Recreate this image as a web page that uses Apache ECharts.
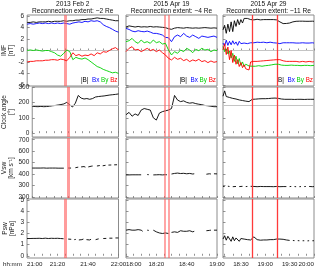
<!DOCTYPE html>
<html><head><meta charset="utf-8">
<script src="https://cdn.jsdelivr.net/npm/echarts@6/dist/echarts.min.js"></script>
<style>html,body{margin:0;padding:0;background:#fff}#c{width:320px;height:269px}</style>
</head><body><div id="c"></div>
<script>
// ---------------- DATA ----------------
const panelTitles = ['2013 Feb 2', '2015 Apr 19', '2015 Apr 29'];
const panelSubtitles = ['Reconnection extent: ~2 Re', 'Reconnection extent: ~4 Re', 'Reconnection extent: ~11 Re'];
// time axes in minutes of day
const xMins = [1260, 1080, 1088];
const xMaxs = [1320, 1140, 1200];
const xLabelValues = [[1260, 1280, 1300, 1320], [1080, 1100, 1120, 1140], [1110, 1140, 1170]];
const xEndLabelValues = [null, null, [1200]];
const eventTimes = [[1284.9], [1105.3, 1107.9], [1124, 1155]];
// y tick labels
const imfTicks = [-6, -4, -2, 0, 2, 4, 6];
const caTicks = [0, 100, 200, 300];
const vswTicks = [200, 300, 400, 500, 600, 700];
const pswTicks = [0, 1, 2, 3, 4, 5];
const rowNames = ['IMF\n[nT]', 'Clock angle\n[°]', 'Vsw\n[km s⁻¹]', 'Psw\n[nPa]'];
const imfLegend = ['|B|', 'Bx', 'By', 'Bz'];

// Column 1 (2013 Feb 2), 2-min sampling from 21:00
const imf1Start = 1260, imf1Step = 2;
const imf1_B  = [4.9,4.9,5.0,4.9,5.0,5.0,5.0,5.1,5.0,5.1,5.1,5.1,5.2,5.1,5.2,5.2,5.3,5.3,5.4,5.4,5.5,5.5,5.6,5.7,5.6,5.6,5.5,5.4,5.3,5.2,5.2];
const imf1_Bx = [4.6,4.7,4.6,4.7,4.8,4.7,4.8,4.7,4.8,4.7,4.8,4.7,4.8,4.7,4.6,4.8,4.9,5.0,4.9,5.1,5.0,5.2,5.1,5.2,5.0,4.5,4.2,4.0,3.7,3.4,3.2];
const imf1_By = [0.0,0.1,0.0,0.1,0.0,-0.1,0.0,0.0,-0.2,-0.4,-0.8,-1.0,-0.5,0.1,-0.2,-1.6,-1.2,-1.4,-1.5,-1.3,-1.6,-2.0,-2.4,-2.8,-3.0,-3.3,-3.5,-3.7,-3.9,-3.8,-4.0];
const imf1_Bz = [-2.0,-1.9,-1.9,-1.8,-1.8,-1.8,-1.7,-1.7,-1.6,-1.6,-1.7,-1.5,-1.6,-1.8,-1.2,-0.4,-0.9,-0.7,-1.0,-0.8,-0.9,-0.6,-0.9,-0.4,-0.6,-0.2,-0.3,0.0,0.3,0.5,0.1];
const ca1 = [175,173,172,174,172,173,175,178,180,183,186,190,200,185,170,195,245,228,222,225,220,225,235,238,240,242,245,248,250,252,255];
// 1-min sampling
const pl1Start = 1260, pl1Step = 1;
const vsw1 = [452,451,452,453,452,451,452,452,453,452,451,452,452,453,452,451,452,452,451,452,451,450,451,
  null,null,452,453,452,null,null,455,458,460,null,462,470,465,460,null,462,465,468,470,null,null,470,472,474,null,472,475,476,null,478,480,479,null,480,482,481,null];
const psw1 = [1.55,1.56,1.55,1.57,1.56,1.55,1.56,1.58,1.57,1.56,1.55,1.57,1.58,1.56,1.55,1.56,1.57,1.58,1.56,1.55,1.57,1.56,1.55,1.54,1.53,
  null,null,1.50,1.52,1.48,null,1.45,1.47,null,1.42,1.38,1.45,1.50,null,1.45,1.50,1.42,1.48,null,null,1.45,1.50,1.52,null,null,1.55,1.58,1.56,null,1.58,1.60,1.58,null,1.60,1.62,1.60];

// Column 2 (2015 Apr 19), 2-min sampling from 18:00
const imf2Start = 1080, imf2Step = 2;
const imf2_B  = [4.1,4.3,4.2,4.1,4.2,4.1,4.15,4.1,4.2,4.1,4.15,4.1,4.05,4.0,3.8,3.7,3.9,4.0,3.95,3.9,4.0,3.95,3.9,3.95,3.9,3.95,4.0,3.95,3.9,3.95,3.9];
const imf2_Bx = [3.86,3.68,3.39,3.27,3.45,3.33,3.27,3.39,3.22,2.99,2.99,2.87,2.70,2.29,2.23,1.54,2.41,2.70,2.41,2.99,2.52,2.29,2.70,2.41,2.12,2.52,2.41,2.29,2.41,2.52,2.29];
const imf2_By = [1.54,1.71,2.12,1.54,1.25,1.83,1.36,1.54,1.25,1.83,1.36,1.54,1.13,1.25,0.09,-0.78,-0.20,-0.49,0.09,-0.20,0.38,0.09,-0.38,0.20,-0.03,0.38,0.09,0.20,-0.20,0.09,-0.03];
const imf2_Bz = [-0.20,0.38,0.67,0.09,0.20,-0.20,0.09,0.38,-0.03,0.20,-0.20,0.09,-0.38,-0.78,-1.36,-1.65,-1.19,-1.54,-1.36,-1.77,-1.54,-1.94,-1.65,-1.83,-1.54,-1.94,-1.77,-2.12,-1.83,-2.06,-1.94];
const ca2 = [120,135,110,125,115,150,160,155,150,100,85,130,140,145,150,160,245,215,205,210,200,195,198,192,188,185,180,178,175,172,172];
const pl2Start = 1080, pl2Step = 1;
const vsw2 = [392,393,392,394,393,392,393,394,393,392,393,null,null,null,395,394,null,null,
  392,393,393,392,394,393,392,393,394,393,null,null,
  400,410,405,398,408,412,404,400,406,410,402,398,405,408,400,402,
  null,null,null,null,null,null,null,398,400,402,400,null,402,400,401];
const psw2 = [2.3,2.4,2.35,2.2,2.3,2.45,2.3,2.15,2.35,2.2,2.3,2.2,null,null,2.3,2.28,null,null,
  2.3,2.25,2.15,2.2,2.05,2.1,2.0,2.15,2.05,2.1,2.0,null,
  2.1,2.2,2.15,2.25,2.1,2.2,2.25,2.15,2.2,2.1,2.2,2.15,2.25,2.2,2.15,2.2,
  null,null,null,null,null,null,null,2.25,2.3,2.28,2.3,null,2.3,2.32,2.3];

// Column 3 (2015 Apr 29), 2-min sampling from 18:08
const imf3Start = 1088, imf3Step = 2;
const imf3_B  = [3.6,4.4,3.0,4.6,3.3,5.0,3.3,5.2,4.2,5.4,4.5,5.4,4.8,5.6,5.3,5.6,5.6,
  5.4,5.4,5.35,5.4,5.45,5.4,5.35,5.4,5.4,5.45,5.4,5.35,5.4,5.45,5.4,5.4,5.35,
  5.3,5.0,4.75,4.7,4.7,4.72,4.75,4.8,4.9,5.0,5.05,5.1,5.1,5.12,5.1,5.12,5.13,5.1,5.12,5.1,5.1,5.12,5.1];
const imf3_Bx = [1.3,0.8,1.8,0.9,1.6,1.0,1.7,1.1,1.5,0.9,1.6,1.2,1.5,1.3,1.4,1.2,1.4,
  1.35,1.4,1.35,1.4,1.45,1.35,1.4,1.35,1.45,1.4,1.35,1.4,1.45,1.4,1.35,1.4,1.3,
  1.0,1.2,1.3,1.35,1.3,1.35,1.3,1.35,1.3,1.35,1.3,1.3,1.35,1.3,1.3,1.35,1.3,1.3,1.35,1.3,1.3,1.35,1.3];
const imf3_By = [0.7,-0.2,0.3,-0.6,-0.1,-1.3,-0.5,-1.9,-1.0,-2.3,-1.4,-2.6,-2.0,-2.8,-2.4,-2.7,-2.7,
  -2.7,-2.75,-2.7,-2.75,-2.7,-2.65,-2.7,-2.75,-2.7,-2.65,-2.7,-2.6,-2.55,-2.5,-2.45,-2.4,-2.35,
  -2.4,-2.5,-2.55,-2.6,-2.6,-2.55,-2.6,-2.6,-2.55,-2.6,-2.6,-2.65,-2.6,-2.6,-2.65,-2.6,-2.6,-2.65,-2.6,-2.6,-2.65,-2.6,-2.6];
const imf3_Bz = [0.1,1.2,-0.7,0.6,-1.6,0.0,-2.1,-0.8,-2.4,-1.6,-2.8,-2.1,-3.0,-2.5,-3.2,-3.1,-3.4,
  -2.0,-1.95,-1.9,-1.85,-1.9,-1.8,-1.85,-1.75,-1.8,-1.7,-1.75,-1.65,-1.7,-1.6,-1.65,-1.55,-1.6,
  -1.5,-1.6,-1.7,-1.8,-1.85,-1.9,-1.85,-1.9,-1.95,-1.9,-1.85,-1.9,-1.95,-2.0,-1.95,-1.9,-1.95,-2.0,-1.95,-1.9,-1.95,-2.0,-1.95];
const ca3 = [240,275,238,250,232,235,226,228,222,220,216,214,212,210,208,206,205,204,
  220,222,221,222,223,222,224,225,224,226,225,226,227,226,228,232,226,224,222,221,220,221,220,221,220,220,219,220,220,219,220,220,219,220,220,219,220,220,220];
const pl3Start = 1088, pl3Step = 2;
const vsw3 = [292,290,null,293,291,null,289,292,291,null,290,291,292,null,290,291,null,292,
  290,291,290,289,290,291,290,290,289,290,291,290,290,289,290,291,290,289,290,290,291,290,
  null,290,291,null,290,289,null,289,290,null,290,291,null,291,290,289,290];
const psw3 = [1.5,1.8,1.4,1.75,1.6,1.3,1.7,1.35,1.6,1.75,1.3,1.55,1.45,1.5,1.4,1.45,1.4,1.42,
  1.45,1.7,1.55,1.45,1.42,1.4,1.4,1.42,1.43,1.42,1.45,1.45,1.43,1.45,1.47,1.5,1.48,1.5,1.52,1.48,1.45,1.42,1.4,
  1.38,null,1.37,1.36,null,1.36,1.35,null,1.35,1.35,null,1.34,1.35,null,1.35,1.35];

// ---------------- BUILD ----------------
const pairs = (t0, step, vals) => vals.map((v, i) => [t0 + i * step, v]);
const hhmm = v => Math.floor(v / 60) + ':' + String(Math.round(v % 60)).padStart(2, '0');
const FONT = 'Liberation Sans, Arial, sans-serif';
const FX = 6.2, FY = 6.5, FT = 6.6, FL = 6.3;

const colData = [
  {imf: [imf1_B, imf1_Bx, imf1_By, imf1_Bz], ca: ca1, vsw: vsw1, psw: psw1, s: [imf1Start, imf1Step], p: [pl1Start, pl1Step]},
  {imf: [imf2_B, imf2_Bx, imf2_By, imf2_Bz], ca: ca2, vsw: vsw2, psw: psw2, s: [imf2Start, imf2Step], p: [pl2Start, pl2Step]},
  {imf: [imf3_B, imf3_Bx, imf3_By, imf3_Bz], ca: ca3, vsw: vsw3, psw: psw3, s: [imf3Start, imf3Step], p: [pl3Start, pl3Step]}
];
const colLayout = [
  {left: 27, width: 91.5, ev: {color: 'rgba(255,90,90,0.6)', width: 3}, aMin: 'left', aMax: 'center', tickStep: 5},
  {left: 126, width: 91, ev: {color: 'rgba(255,90,90,0.6)', width: 1.8}, aMin: 'left', aMax: 'center', tickStep: 5},
  {left: 223, width: 91, ev: {color: '#ff3a3a', width: 1.3}, aMin: 'center', aMax: 'center', tickStep: 10}
];
const rowLayout = [{top: 15, height: 71}, {top: 87, height: 50}, {top: 138, height: 60}, {top: 199, height: 59}];
const yRanges = [[-6.2, 6.2], [-25, 300], [190, 715], [-0.2, 5.1]];
const yTickSets = [imfTicks, caTicks, vswTicks, pswTicks];
const refLines = [0, 180, null, null];
const imfColors = ['#000000', '#0000ff', '#00d000', '#ff0000'];

const grids = [], xAxes = [], yAxes = [], series = [], graphics = [];
for (let r = 0; r < 4; r++) {
  for (let c = 0; c < 3; c++) {
    const g = grids.length;
    const L = colLayout[c], R = rowLayout[r];
    grids.push({left: L.left, width: L.width, top: R.top, height: R.height, show: true, borderColor: '#8c8c8c', borderWidth: 1});
    const tv = [];
    for (let t = Math.ceil(xMins[c] / L.tickStep) * L.tickStep; t <= xMaxs[c]; t += L.tickStep) tv.push(t);
    xAxes.push({gridIndex: g, type: 'value', min: xMins[c], max: xMaxs[c],
      axisLine: {show: false}, splitLine: {show: false},
      axisTick: {show: true, inside: true, length: 2, customValues: tv, lineStyle: {color: '#777', width: 0.8}},
      axisLabel: {show: r === 3, customValues: xLabelValues[c], formatter: hhmm, fontSize: FX, color: '#222', margin: 3, fontFamily: FONT,
        alignMinLabel: L.aMin, alignMaxLabel: L.aMax, hideOverlap: false}});
    yAxes.push({gridIndex: g, type: 'value', min: yRanges[r][0], max: yRanges[r][1],
      axisLine: {show: false}, splitLine: {show: false},
      axisTick: {show: true, inside: true, length: 2.5, customValues: yTickSets[r], lineStyle: {color: '#777', width: 0.8}},
      axisLabel: {show: c === 0, customValues: yTickSets[r], fontSize: FY, color: '#222', margin: 3, fontFamily: FONT},
      name: c === 0 ? rowNames[r] : '', nameLocation: 'middle', nameRotate: 90, nameGap: 12,
      nameTextStyle: {fontSize: FY, lineHeight: 6.5, color: '#222', fontFamily: FONT}});
    const d = colData[c];
    const ml = eventTimes[c].map(t => ({xAxis: t, lineStyle: {color: L.ev.color, width: L.ev.width, type: 'solid'}}));
    if (refLines[r] !== null) ml.unshift({yAxis: refLines[r], lineStyle: {color: '#c4c4c4', width: 1, type: 'solid'}});
    const mk = {silent: true, symbol: ['none', 'none'], label: {show: false}, animation: false, data: ml};
    const base = {type: 'line', xAxisIndex: g, yAxisIndex: g, showSymbol: false, symbol: 'none', animation: false,
      connectNulls: false, clip: true};
    if (r === 0) {
      d.imf.forEach((arr, k) => {
        series.push(Object.assign({}, base, {name: imfLegend[k], data: pairs(d.s[0], d.s[1], arr),
          lineStyle: {color: imfColors[k], width: 0.9}, itemStyle: {color: imfColors[k]}, z: 3 + k,
          markLine: k === 0 ? mk : undefined}));
      });
    } else {
      const arr = r === 1 ? d.ca : (r === 2 ? d.vsw : d.psw);
      const st = r === 1 ? d.s : d.p;
      series.push(Object.assign({}, base, {data: pairs(st[0], st[1], arr),
        lineStyle: {color: '#000', width: 0.9}, itemStyle: {color: '#000'}, z: 3, markLine: mk}));
    }
  }
}
// extra overlay axis carrying the end-of-range label of the last column (same scale as its bottom panel)
for (let c = 0; c < 3; c++) {
  if (!xEndLabelValues[c]) continue;
  const L = colLayout[c], R = rowLayout[3];
  const g = grids.length;
  grids.push({left: L.left, width: L.width, top: R.top, height: R.height, show: false});
  xAxes.push({gridIndex: g, type: 'value', min: xMins[c], max: xMaxs[c], axisLine: {show: false}, axisTick: {show: false},
    splitLine: {show: false},
    axisLabel: {show: true, customValues: xEndLabelValues[c], formatter: hhmm, fontSize: FX, color: '#222', margin: 3,
      fontFamily: FONT, alignMaxLabel: 'right', alignMinLabel: 'right'}});
  yAxes.push({gridIndex: g, type: 'value', min: yRanges[3][0], max: yRanges[3][1], show: false});
}

// titles and legends
for (let c = 0; c < 3; c++) {
  const L = colLayout[c];
  graphics.push({type: 'text', x: L.left + L.width / 2, y: 1, silent: true,
    style: {text: panelTitles[c] + '\n' + panelSubtitles[c], align: 'center', verticalAlign: 'top',
      font: FT + 'px ' + FONT, lineHeight: 7, fill: '#111'}});
  graphics.push({type: 'text', x: L.left + L.width - 1, y: 80, silent: true,
    style: {text: '{b|' + imfLegend[0] + '}  {x|' + imfLegend[1] + '} {y|' + imfLegend[2] + '} {z|' + imfLegend[3] + '}',
      align: 'right', verticalAlign: 'middle', font: FL + 'px ' + FONT,
      rich: {b: {fill: imfColors[0], font: FL + 'px ' + FONT}, x: {fill: imfColors[1], font: FL + 'px ' + FONT},
             y: {fill: imfColors[2], font: FL + 'px ' + FONT}, z: {fill: imfColors[3], font: FL + 'px ' + FONT}}}});
}
graphics.push({type: 'text', x: 3, y: 264, silent: true,
  style: {text: 'hh:mm', align: 'left', verticalAlign: 'middle', font: FX + 'px ' + FONT, fill: '#222'}});

const chart = echarts.init(document.getElementById('c'), null, {renderer: 'canvas'});
chart.setOption({animation: false, backgroundColor: '#fff', grid: grids, xAxis: xAxes, yAxis: yAxes, series: series, graphic: graphics});
</script></body></html>
